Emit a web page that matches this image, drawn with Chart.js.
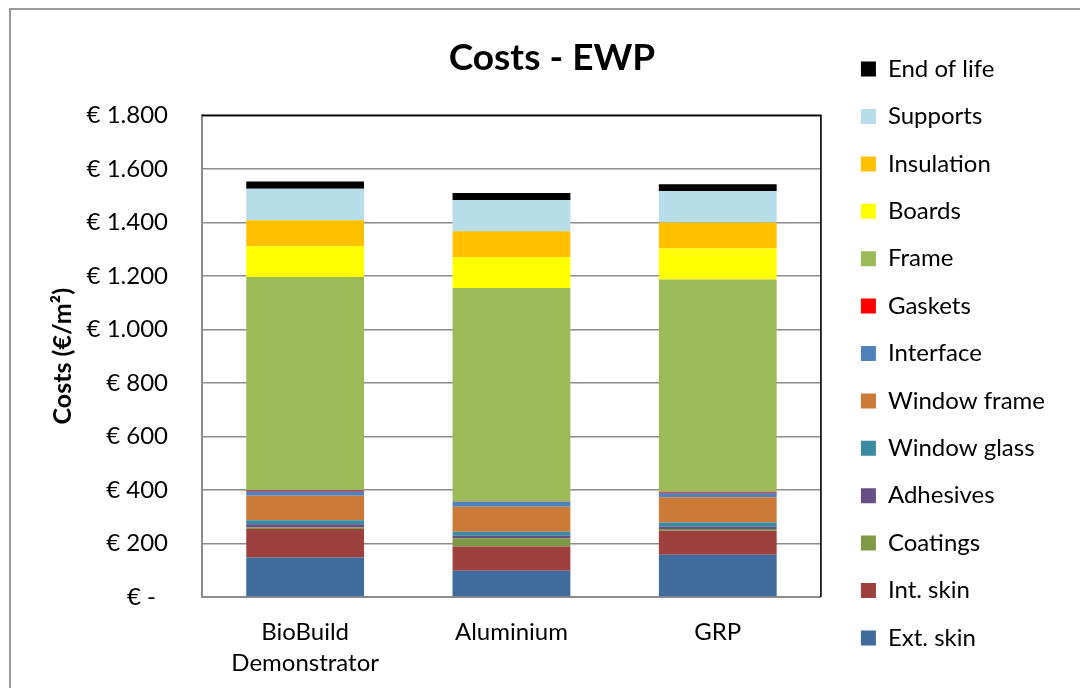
<!DOCTYPE html>
<html>
<head>
<meta charset="utf-8">
<script src="https://cdn.jsdelivr.net/npm/chart.js@4.4.1/dist/chart.umd.min.js"></script>
<style>
  html, body { margin: 0; padding: 0; background: #ffffff; overflow: hidden; }
  #wrap { position: relative; width: 1080px; height: 688px; }
  #frame { position: absolute; left: 9px; top: 8px; width: 1100px; height: 700px; border: 2px solid #9a9a9a; box-sizing: border-box; pointer-events: none; }
  canvas { position: absolute; left: 0; top: 0; }
</style>
</head>
<body>
<div id="wrap">
  <canvas id="c" width="1080" height="688"></canvas>
  <div id="frame"></div>
</div>
<script>
// ---- Data ----
const categories = [['BioBuild', 'Demonstrator'], 'Aluminium', 'GRP'];
const seriesNames = ['Ext. skin', 'Int. skin', 'Coatings', 'Adhesives', 'Window glass', 'Window frame',
                     'Interface', 'Gaskets', 'Frame', 'Boards', 'Insulation', 'Supports', 'End of life'];
const extSkin     = [148, 98, 158];
const intSkin     = [106, 91, 90];
const coatings    = [6, 31, 6];
const adhesives   = [12, 9, 9];
const windowGlass = [15, 15, 15];
const windowFrame = [91, 93, 95];
const interfaceC  = [18, 19, 17];
const gaskets     = [3, 1, 3];
const frame       = [797, 798, 794];
const boards      = [115, 115, 116];
const insulation  = [97, 97, 97];
const supports    = [118, 117, 117];
const endOfLife   = [27, 26, 26];
const yTicks = [0, 200, 400, 600, 800, 1000, 1200, 1400, 1600, 1800];

const seriesValues = [extSkin, intSkin, coatings, adhesives, windowGlass, windowFrame,
                      interfaceC, gaskets, frame, boards, insulation, supports, endOfLife];
const seriesColors = ['#3F6B9D', '#9D403E', '#7E9A47', '#684E87', '#3A8BA2', '#CC7A37',
                      '#4F81BD', '#FF0000', '#9BBB59', '#FFFF00', '#FFC000', '#B7DDE8', '#000000'];

const FONT = 'Lato, "Open Sans", sans-serif';

function fmt(v) {
  if (v === 0) return '€ -\u2002';
  return '€ ' + String(v).replace(/\B(?=(\d{3})+(?!\d))/g, '.');
}

const plotBorder = {
  id: 'plotBorder',
  afterDraw(chart) {
    const a = chart.chartArea, ctx = chart.ctx;
    ctx.save();
    ctx.strokeStyle = '#000000';
    ctx.lineWidth = 1.6;
    ctx.beginPath();
    ctx.moveTo(a.left, a.top);
    ctx.lineTo(a.right, a.top);
    ctx.lineTo(a.right, a.bottom);
    ctx.stroke();
    ctx.restore();
  }
};

new Chart(document.getElementById('c'), {
  type: 'bar',
  data: {
    labels: categories,
    datasets: seriesNames.map((n, i) => ({
      label: n,
      data: seriesValues[i],
      backgroundColor: seriesColors[i],
      borderWidth: 0,
      categoryPercentage: 1.0,
      barPercentage: 0.571
    }))
  },
  options: {
    responsive: false,
    animation: false,
    layout: { padding: { left: 49, right: 25, top: 19, bottom: 0 } },
    plugins: {
      title: {
        display: true,
        text: 'Costs - EWP',
        color: '#000000',
        font: { family: FONT, size: 37, weight: 'bold', lineHeight: 1.2 },
        padding: { top: 17, bottom: 35 }
      },
      legend: {
        position: 'right',
        weight: 3000,
        reverse: true,
        maxWidth: 400,
        labels: {
          boxWidth: 15,
          boxHeight: 15,
          padding: 23.4,
          color: '#000000',
          font: { family: FONT, size: 24 }
        }
      },
      tooltip: { enabled: false }
    },
    scales: {
      x: {
        stacked: true,
        grid: { display: false, drawTicks: false },
        border: { display: true, color: '#8c8c8c', width: 2 },
        ticks: { color: '#000000', padding: 19.5, font: { family: FONT, size: 24, lineHeight: 1.29 }, maxRotation: 0 },
        afterFit(s) { s.height = 91; }
      },
      y: {
        stacked: true,
        min: 0,
        max: 1800,
        afterBuildTicks(s) { s.ticks = yTicks.map(v => ({ value: v })); },
        grid: { color: '#8c8c8c', lineWidth: 1.4, drawTicks: false },
        border: { display: true, color: '#8c8c8c', width: 2 },
        ticks: { color: '#000000', padding: 34, font: { family: FONT, size: 24 }, callback: v => fmt(v) },
        title: {
          display: true,
          text: 'Costs (€/m²)',
          color: '#000000',
          font: { family: FONT, size: 25, weight: 'bold', lineHeight: 1.0 },
          padding: { top: 1, bottom: 0 }
        },
        afterFit(s) { s.width = 153; }
      },
      y2: {
        position: 'right',
        display: true,
        grid: { display: false, drawTicks: false },
        border: { display: false },
        ticks: { display: false },
        afterFit(s) { s.width = 16.6; }
      }
    }
  },
  plugins: [plotBorder]
});
</script>
</body>
</html>
